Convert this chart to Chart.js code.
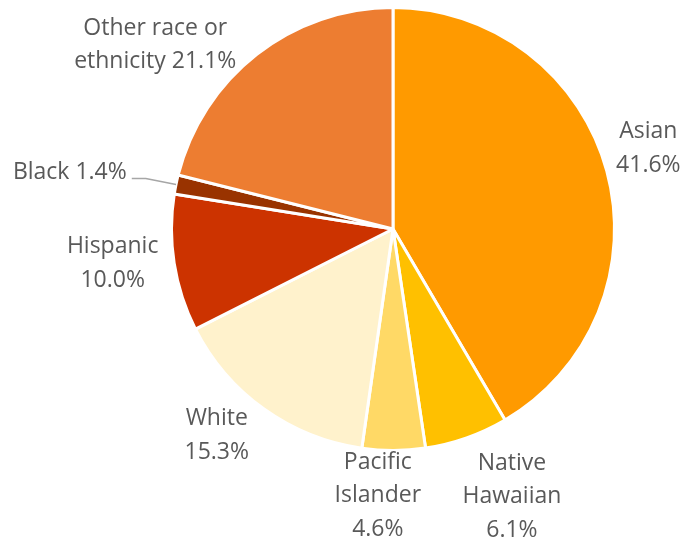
<!DOCTYPE html>
<html>
<head>
<meta charset="utf-8">
<script src="https://cdn.jsdelivr.net/npm/chart.js@4.4.1/dist/chart.umd.min.js"></script>
<style>
  html, body { margin: 0; padding: 0; background: #fff; }
  #race-chart { display: block; }
</style>
</head>
<body>
<canvas id="race-chart" width="684" height="541"></canvas>
<script>
// share of respondents by race / ethnicity (percent)
const groups = ['Asian', 'Native\nHawaiian', 'Pacific\nIslander', 'White', 'Hispanic', 'Black', 'Other race or\nethnicity'];
const shares = [41.6, 6.1, 4.6, 15.3, 10.0, 1.4, 21.1];
const sliceColors = ['#FF9A00', '#FFC000', '#FFD966', '#FFF2CC', '#CC3300', '#993300', '#ED7D31'];

// how the name and the value are joined in each label
const joiners = ['\n', '\n', '\n', '\n', '\n', ' ', ' '];
// pixel nudges for the outside labels
const labelNudge = [[3, -12], [32, 21], [-16, 5], [-24, -6], [-22, -6], [-67, -4], [-77, 22]];

const FONT = '23px "Open Sans", "Liberation Sans", sans-serif';
const LINE_H = 33.5;

const outsideLabels = {
    id: 'outsideLabels',
    afterDatasetsDraw(chart) {
        const ctx = chart.ctx;
        const meta = chart.getDatasetMeta(0);
        ctx.save();
        ctx.font = FONT;
        ctx.fillStyle = '#595959';
        ctx.textAlign = 'center';
        ctx.textBaseline = 'middle';
        meta.data.forEach((arc, i) => {
            const p = arc.getProps(['x', 'y', 'startAngle', 'endAngle', 'outerRadius'], true);
            const mid = (p.startAngle + p.endAngle) / 2;
            const r = p.outerRadius + 40;
            const cx = p.x + Math.cos(mid) * r + labelNudge[i][0];
            const cy = p.y + Math.sin(mid) * r + labelNudge[i][1];
            const text = groups[i] + joiners[i] + shares[i].toFixed(1) + '%';
            const lines = text.split('\n');
            const top = cy - (lines.length - 1) * LINE_H / 2;
            lines.forEach((ln, k) => ctx.fillText(ln, cx, top + k * LINE_H));

            // leader line for the thin slice
            if (groups[i] === 'Black') {
                const w = ctx.measureText(lines[0]).width;
                const x0 = cx + w / 2 + 5;
                const y0 = cy + 6;
                const ex = p.x + Math.cos(mid) * p.outerRadius;
                const ey = p.y + Math.sin(mid) * p.outerRadius;
                ctx.strokeStyle = '#A6A6A6';
                ctx.lineWidth = 1.5;
                ctx.beginPath();
                ctx.moveTo(x0, y0);
                ctx.lineTo(x0 + 14, y0);
                ctx.lineTo(ex, ey);
                ctx.stroke();
            }
        });
        ctx.restore();
    }
};

new Chart(document.getElementById('race-chart').getContext('2d'), {
    type: 'pie',
    data: {
        labels: groups,
        datasets: [{
            data: shares,
            backgroundColor: sliceColors,
            borderColor: '#FFFFFF',
            borderWidth: 3
        }]
    },
    options: {
        responsive: false,
        animation: false,
        layout: { padding: { left: 170, right: 68, top: 6, bottom: 89 } },
        plugins: {
            legend: { display: false },
            tooltip: { enabled: false }
        }
    },
    plugins: [outsideLabels]
});
</script>
</body>
</html>
